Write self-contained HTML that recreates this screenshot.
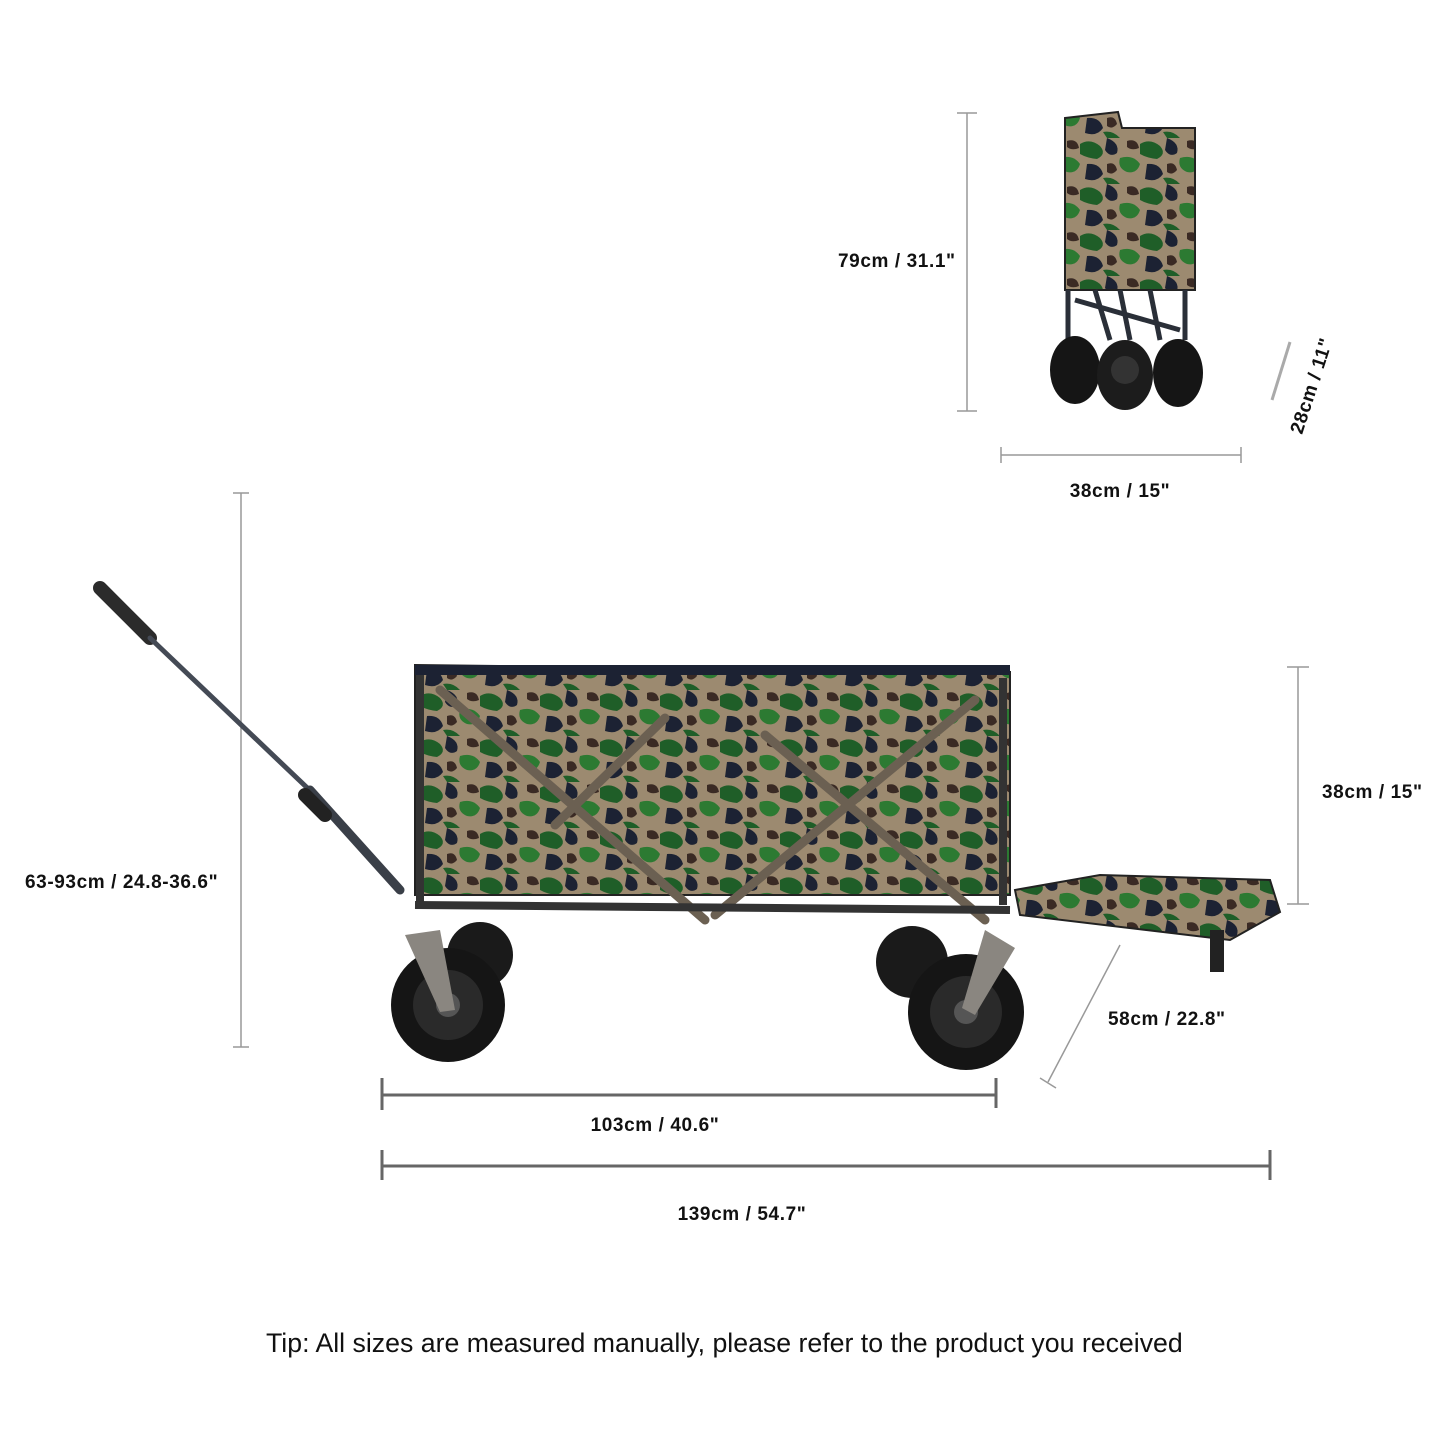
<!DOCTYPE html>
<html><head><meta charset="utf-8"><style>
html,body{margin:0;padding:0;background:#fff;width:1445px;height:1445px;overflow:hidden}
svg{display:block}
.t{font-family:"Liberation Sans",sans-serif;font-weight:bold;font-size:19px;letter-spacing:0.6px;fill:#111}
</style></head><body>
<svg width="1445" height="1445" viewBox="0 0 1445 1445" xmlns="http://www.w3.org/2000/svg">
<defs>
<pattern id="camo" width="60" height="46" patternUnits="userSpaceOnUse">
<rect width="60" height="46" fill="#9c8a70"/>
<path d="M0 6 Q10 0 20 8 Q27 16 17 21 Q7 20 0 16Z" fill="#1f5e28"/>
<path d="M27 0 Q40 5 37 15 Q30 20 25 12Z" fill="#1c2233"/>
<path d="M40 20 Q53 16 60 26 Q57 36 47 34 Q37 30 40 20Z" fill="#2c7a32"/>
<path d="M7 26 Q20 25 23 36 Q17 45 5 41Z" fill="#1c2233"/>
<path d="M27 26 Q35 23 37 32 Q32 38 27 34Z" fill="#3a2a24"/>
<path d="M47 3 Q57 0 59 10 Q52 13 47 9Z" fill="#3a2a24"/>
<path d="M23 40 Q33 38 40 46 L27 46Z" fill="#1f5e28"/>
</pattern>
</defs>

<g stroke="#999" stroke-width="1.5" fill="none">
<line x1="967" y1="113" x2="967" y2="411"/><line x1="957" y1="113" x2="977" y2="113"/><line x1="957" y1="411" x2="977" y2="411"/>
<line x1="1001" y1="455" x2="1241" y2="455"/><line x1="1001" y1="447" x2="1001" y2="463"/><line x1="1241" y1="447" x2="1241" y2="463"/>
<line x1="241" y1="493" x2="241" y2="1047"/><line x1="233" y1="493" x2="249" y2="493"/><line x1="233" y1="1047" x2="249" y2="1047"/>
<line x1="1298" y1="667" x2="1298" y2="904"/><line x1="1287" y1="667" x2="1309" y2="667"/><line x1="1287" y1="904" x2="1309" y2="904"/>
<line x1="1048" y1="1082" x2="1120" y2="945"/><line x1="1040" y1="1078" x2="1056" y2="1088"/>
</g>
<g stroke="#aaa" stroke-width="3"><line x1="1272" y1="400" x2="1290" y2="342"/></g>
<g stroke="#666" stroke-width="3">
<line x1="382" y1="1095" x2="996" y2="1095"/><line x1="382" y1="1078" x2="382" y2="1110"/><line x1="996" y1="1078" x2="996" y2="1108"/>
<line x1="382" y1="1166" x2="1270" y2="1166"/><line x1="382" y1="1150" x2="382" y2="1180"/><line x1="1270" y1="1150" x2="1270" y2="1180"/>
</g>

<g>
<path d="M1065 118 L1118 112 L1122 128 L1195 128 L1195 290 L1065 290Z" fill="url(#camo)" stroke="#222" stroke-width="2"/>
<g stroke="#2a2f38" stroke-width="5"><line x1="1068" y1="290" x2="1068" y2="340"/><line x1="1095" y1="290" x2="1110" y2="340"/><line x1="1120" y1="290" x2="1130" y2="340"/><line x1="1150" y1="290" x2="1160" y2="340"/><line x1="1185" y1="290" x2="1185" y2="340"/><line x1="1075" y1="300" x2="1180" y2="330"/></g>
<ellipse cx="1075" cy="370" rx="25" ry="34" fill="#151515"/>
<ellipse cx="1178" cy="373" rx="25" ry="34" fill="#151515"/>
<ellipse cx="1125" cy="375" rx="28" ry="35" fill="#1c1c1c"/>
<circle cx="1125" cy="370" r="14" fill="#333"/>
</g>

<g stroke-linecap="round">
<line x1="100" y1="588" x2="150" y2="638" stroke="#2b2b2b" stroke-width="14"/>
<line x1="150" y1="638" x2="320" y2="800" stroke="#444a55" stroke-width="5"/>
<line x1="310" y1="790" x2="400" y2="890" stroke="#3a3f48" stroke-width="9"/>
<line x1="305" y1="795" x2="325" y2="815" stroke="#222" stroke-width="14"/>
</g>

<circle cx="480" cy="955" r="33" fill="#1a1a1a"/>
<circle cx="912" cy="962" r="36" fill="#1a1a1a"/>

<path d="M415 665 L1010 672 L1010 895 L415 895Z" fill="url(#camo)" stroke="#222" stroke-width="2"/>
<rect x="415" y="665" width="595" height="10" fill="#1c2233"/>
<g stroke="#6b6052" stroke-width="9" stroke-linecap="round">
<line x1="440" y1="690" x2="705" y2="920"/>
<line x1="975" y1="700" x2="715" y2="915"/>
<line x1="555" y1="825" x2="665" y2="718"/>
<line x1="765" y1="735" x2="985" y2="920"/>
</g>
<g stroke="#333" stroke-width="8"><line x1="420" y1="675" x2="420" y2="905"/><line x1="1003" y1="678" x2="1003" y2="905"/><line x1="415" y1="905" x2="1010" y2="910"/></g>
<path d="M1015 890 L1100 875 L1270 880 L1280 912 L1230 940 L1020 915Z" fill="url(#camo)" stroke="#222" stroke-width="2"/>
<rect x="1210" y="930" width="14" height="42" fill="#222"/>

<circle cx="448" cy="1005" r="57" fill="#151515"/>
<circle cx="448" cy="1005" r="35" fill="#2a2a2a"/>
<circle cx="448" cy="1005" r="12" fill="#555"/>
<circle cx="966" cy="1012" r="58" fill="#151515"/>
<circle cx="966" cy="1012" r="36" fill="#2a2a2a"/>
<circle cx="966" cy="1012" r="12" fill="#555"/>
<path d="M405 935 L440 930 L455 1010 L440 1012Z" fill="#8a8680"/>
<path d="M985 930 L1015 948 L975 1015 L962 1008Z" fill="#8a8680"/>

<text class="t" x="838" y="267">79cm / 31.1"</text>
<text class="t" x="1120" y="497" text-anchor="middle">38cm / 15"</text>
<text class="t" x="0" y="0" transform="translate(1302,435) rotate(-72)">28cm / 11"</text>
<text class="t" x="25" y="888">63-93cm / 24.8-36.6"</text>
<text class="t" x="1322" y="798">38cm / 15"</text>
<text class="t" x="1108" y="1025">58cm / 22.8"</text>
<text class="t" x="655" y="1131" text-anchor="middle">103cm / 40.6"</text>
<text class="t" x="742" y="1220" text-anchor="middle">139cm / 54.7"</text>
<text x="266" y="1352" style="font-family:'Liberation Sans',sans-serif;font-size:26.7px;fill:#111">Tip: All sizes are measured manually, please refer to the product you received</text>
</svg>
</body></html>
